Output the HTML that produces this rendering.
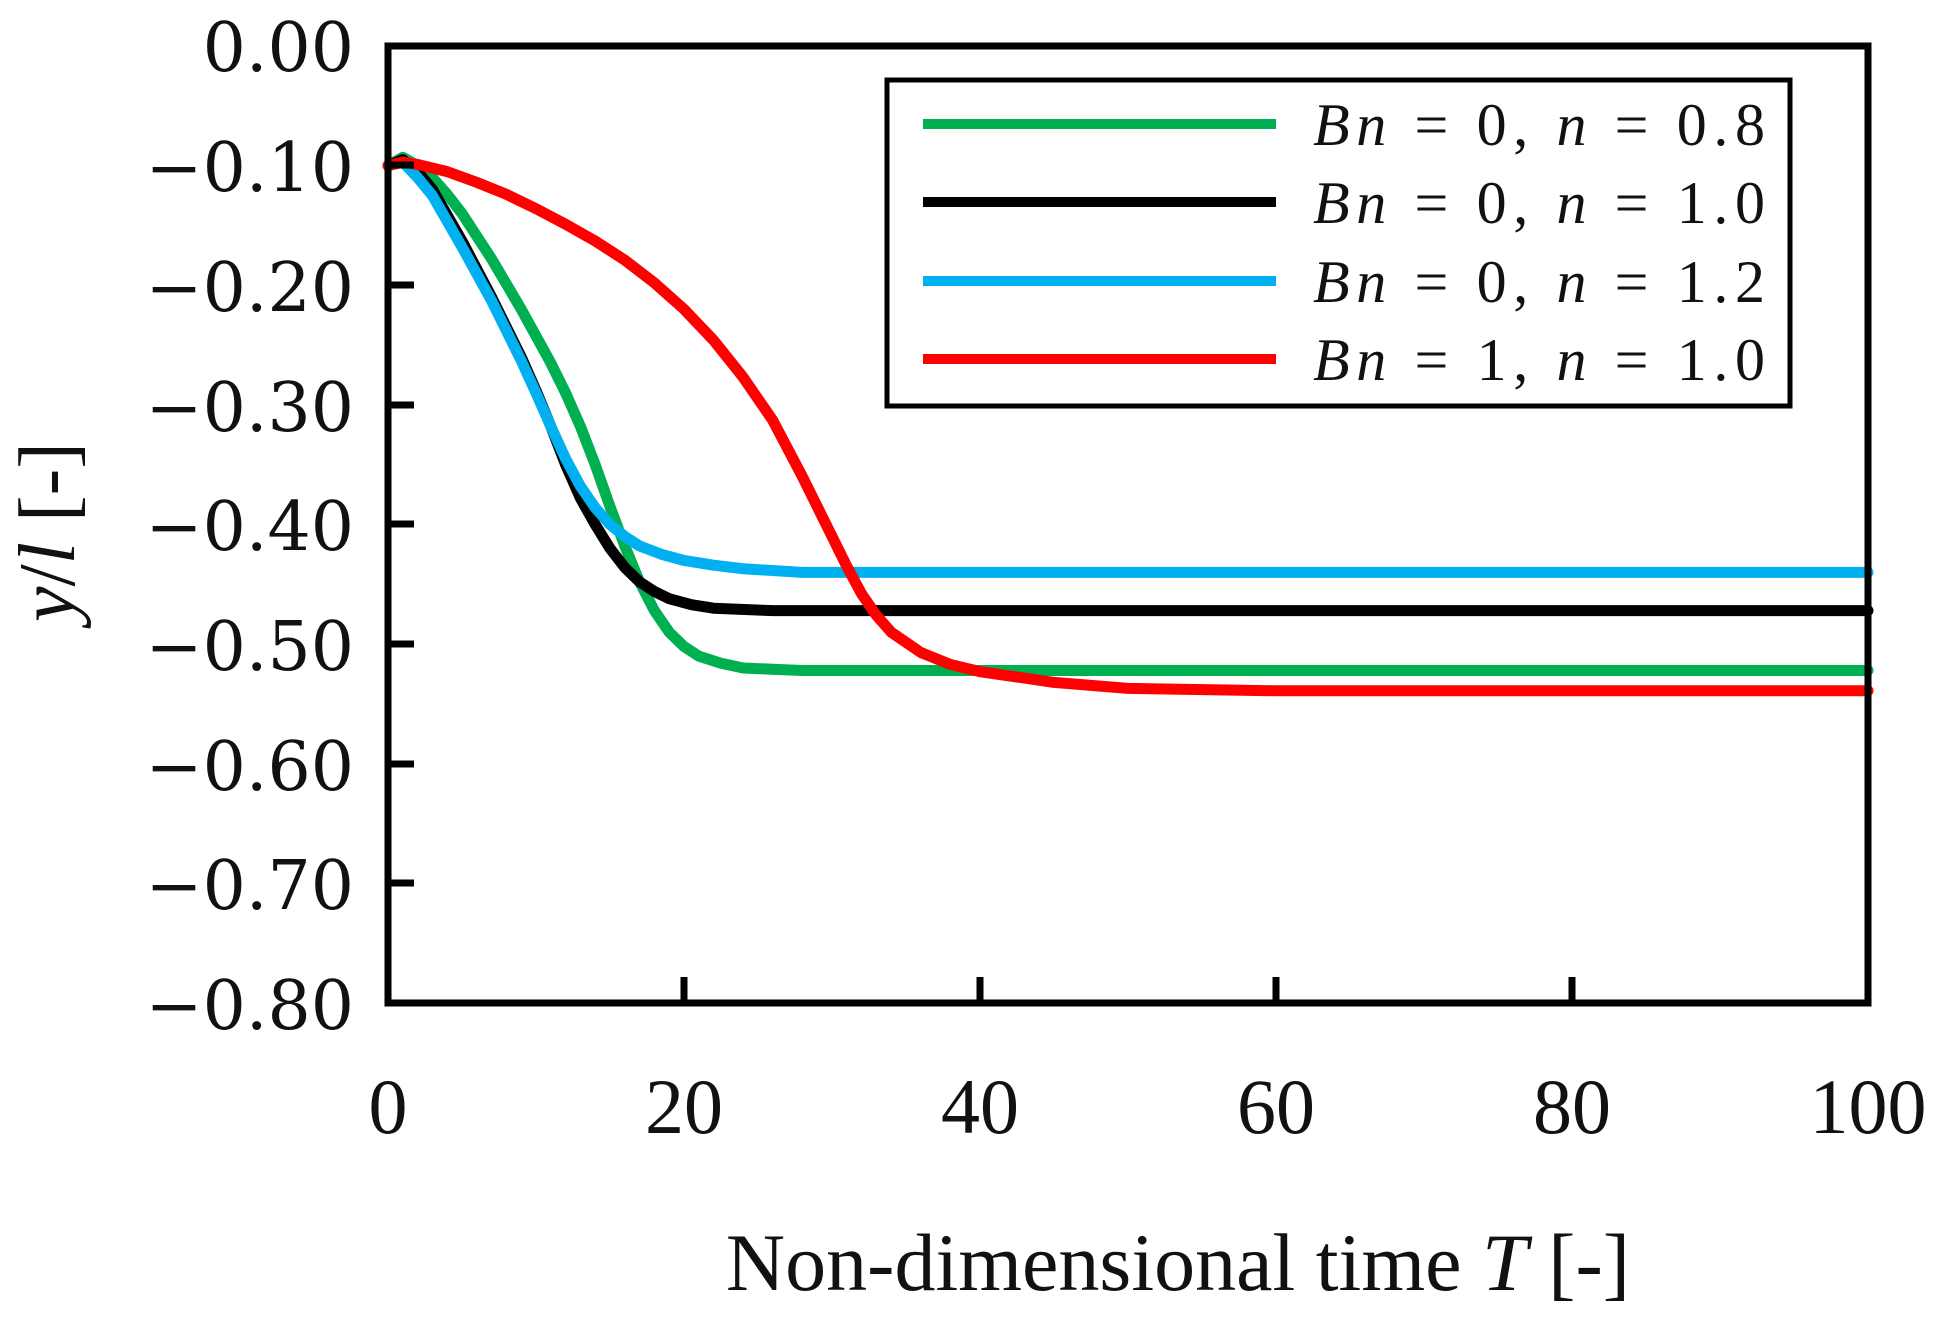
<!DOCTYPE html>
<html><head><meta charset="utf-8"><style>
html,body{margin:0;padding:0;background:#fff}
svg{display:block}
text{font-family:"Liberation Serif",serif;fill:#111}
text.dv{font-family:"DejaVu Serif",serif}
</style></head><body>
<svg width="1942" height="1323" viewBox="0 0 1942 1323" xmlns="http://www.w3.org/2000/svg">
<rect width="1942" height="1323" fill="#fff"/>
<g transform="translate(388,46) scale(14.8,-1196.25)" fill="none" stroke-width="11" stroke-linejoin="round" stroke-linecap="round">
<polyline vector-effect="non-scaling-stroke" stroke="#00b050" points="0,-0.1 1,-0.093 2,-0.1 3,-0.11 4,-0.124 5,-0.14 7,-0.178 9,-0.22 11,-0.265 12,-0.29 13,-0.318 14,-0.35 15,-0.385 16,-0.418 17,-0.448 18,-0.472 19,-0.49 20,-0.502 21,-0.51 22.5,-0.516 24,-0.52 28,-0.522 100,-0.522"/>
<polyline vector-effect="non-scaling-stroke" stroke="#000" points="0,-0.1 1,-0.095 2,-0.105 3,-0.12 5,-0.163 7,-0.21 9,-0.26 10,-0.288 11,-0.318 12,-0.35 13,-0.378 14,-0.4 15,-0.42 16,-0.436 17,-0.448 18,-0.456 19,-0.462 20.5,-0.467 22,-0.47 26,-0.472 100,-0.472"/>
<polyline vector-effect="non-scaling-stroke" stroke="#00b0f0" points="0,-0.1 1,-0.097 2,-0.11 3,-0.125 5,-0.168 7,-0.213 9,-0.263 10,-0.29 11,-0.318 12,-0.345 13,-0.368 14,-0.386 15,-0.4 16,-0.41 17,-0.418 18.5,-0.425 20,-0.43 22,-0.434 24,-0.437 28,-0.44 100,-0.44"/>
<polyline vector-effect="non-scaling-stroke" stroke="#ff0000" points="0,-0.1 1,-0.097 2,-0.099 4,-0.105 6,-0.114 8,-0.124 10,-0.136 12,-0.149 14,-0.163 16,-0.179 18,-0.198 20,-0.22 22,-0.246 24,-0.277 26,-0.313 28,-0.36 29,-0.385 30,-0.41 31,-0.435 32,-0.458 33,-0.476 34,-0.49 36,-0.507 38,-0.517 40,-0.523 45,-0.532 50,-0.537 60,-0.539 100,-0.539"/>
</g>
<rect x="388" y="46" width="1480" height="957" fill="none" stroke="#000" stroke-width="7"/>
<g stroke="#000" stroke-width="7">
<line x1="388" y1="165" x2="414" y2="165"/><line x1="388" y1="285" x2="414" y2="285"/><line x1="388" y1="405" x2="414" y2="405"/><line x1="388" y1="524" x2="414" y2="524"/><line x1="388" y1="644" x2="414" y2="644"/><line x1="388" y1="764" x2="414" y2="764"/><line x1="388" y1="883" x2="414" y2="883"/>
<line x1="684" y1="1003" x2="684" y2="977"/><line x1="980" y1="1003" x2="980" y2="977"/><line x1="1276" y1="1003" x2="1276" y2="977"/><line x1="1572" y1="1003" x2="1572" y2="977"/>
</g>
<g font-size="68" text-anchor="end">
<text class="dv" x="354" y="71">0.00</text><text class="dv" x="354" y="191">−0.10</text><text class="dv" x="354" y="311">−0.20</text><text class="dv" x="354" y="431">−0.30</text><text class="dv" x="354" y="550">−0.40</text><text class="dv" x="354" y="670">−0.50</text><text class="dv" x="354" y="790">−0.60</text><text class="dv" x="354" y="909">−0.70</text><text class="dv" x="354" y="1029">−0.80</text>
</g>
<g font-size="78" text-anchor="middle">
<text x="388" y="1133">0</text><text x="684" y="1133">20</text><text x="980" y="1133">40</text><text x="1276" y="1133">60</text><text x="1572" y="1133">80</text><text x="1868" y="1133">100</text>
</g>
<text x="1178" y="1290" font-size="82" text-anchor="middle">Non-dimensional time <tspan font-style="italic">T</tspan> [-]</text>
<text transform="translate(74,532) rotate(-90)" font-size="80" text-anchor="middle"><tspan font-style="italic">y</tspan>/<tspan font-style="italic">l</tspan> [-]</text>
<rect x="887" y="80" width="903" height="326" fill="#fff" stroke="#000" stroke-width="5"/>
<g stroke-width="10">
<line x1="923" y1="124" x2="1276" y2="124" stroke="#00b050"/>
<line x1="923" y1="202" x2="1276" y2="202" stroke="#000"/>
<line x1="923" y1="281" x2="1276" y2="281" stroke="#00b0f0"/>
<line x1="923" y1="359" x2="1276" y2="359" stroke="#ff0000"/>
</g>
<g font-size="60">
<text x="1313" y="145" textLength="452" lengthAdjust="spacing"><tspan font-style="italic">Bn</tspan> = 0, <tspan font-style="italic">n</tspan> = 0.8</text>
<text x="1313" y="223" textLength="452" lengthAdjust="spacing"><tspan font-style="italic">Bn</tspan> = 0, <tspan font-style="italic">n</tspan> = 1.0</text>
<text x="1313" y="302" textLength="452" lengthAdjust="spacing"><tspan font-style="italic">Bn</tspan> = 0, <tspan font-style="italic">n</tspan> = 1.2</text>
<text x="1313" y="380" textLength="452" lengthAdjust="spacing"><tspan font-style="italic">Bn</tspan> = 1, <tspan font-style="italic">n</tspan> = 1.0</text>
</g>
</svg>
</body></html>
